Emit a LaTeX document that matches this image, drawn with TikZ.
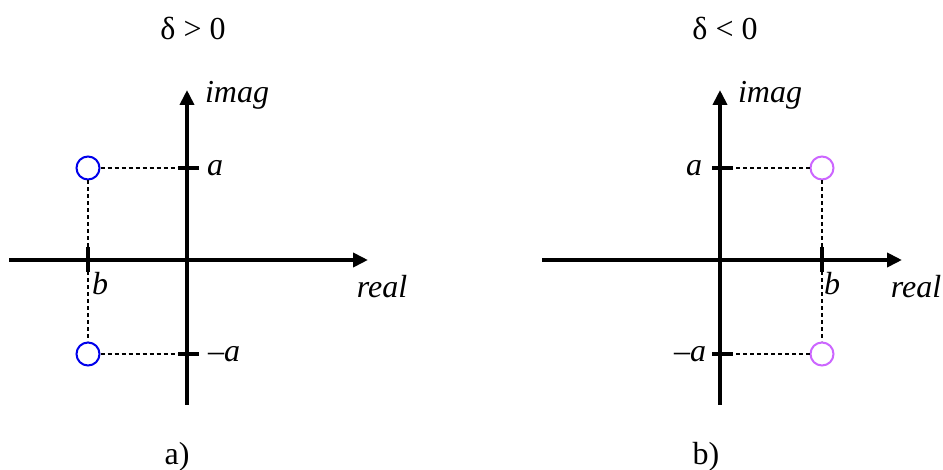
\documentclass[tikz,border=0pt]{standalone}
\usepackage{fontspec}
\setmainfont{Liberation Serif}
\usetikzlibrary{arrows.meta,positioning}
\definecolor{poleblue}{RGB}{0,0,235}
\definecolor{polepink}{RGB}{204,102,255}
\tikzset{axis/.style={-{Triangle[length=15pt,width=14pt]},line width=4pt},tickmark/.style={line width=4pt},guide/.style={line width=1.2pt,dash pattern=on 4pt off 3pt},pole/.style={draw,circle,line width=2pt,minimum size=23pt,inner sep=0pt},lbl/.style={font=\fontsize{32}{38}\selectfont\itshape,inner sep=0pt},ttl/.style={font=\fontsize{32}{38}\selectfont,inner sep=0pt}}

\begin{document}
\begin{tikzpicture}[x=1pt,y=-1pt]
\useasboundingbox (0,0) rectangle (943,470);
% a) delta > 0
\coordinate (o1) at (187,260); \coordinate (xl1) at (9,260); \coordinate (xr1) at (368,260);
\coordinate (yb1) at (187,405); \coordinate (yt1) at (187,90);
\coordinate (a1) at (187,168); \coordinate (na1) at (187,354); \coordinate (b1) at (88,260);
\node[pole,poleblue] (p1) at (88,168) {}; \node[pole,poleblue] (q1) at (88,354) {};
\draw[guide] (p1)--(a1); \draw[guide] (q1)--(na1); \draw[guide] (p1)--(q1);
\draw[axis] (xl1)--(xr1); \draw[axis] (yb1)--(yt1);
\draw[tickmark] ([xshift=-9pt]a1)--([xshift=12pt]a1); \draw[tickmark] ([xshift=-9pt]na1)--([xshift=12pt]na1);
\draw[tickmark,line width=3.5pt] ([yshift=13pt]b1)--([yshift=-12pt]b1);
\node[ttl] (t1) at (193,28) {δ > 0};
\node[lbl] (im1) at (237,95) {imag}; \node[lbl] (re1) at (382,287) {real};
\node[lbl] (la1) at (215,168) {a}; \node[lbl] (lna1) at (224,354) {\textup{–}a}; \node[lbl] (lb1) at (100,284) {b};
\node[ttl] (c1) at (177,457) {a)};
% b) delta < 0
\coordinate (o2) at (720,260); \coordinate (xl2) at (542,260); \coordinate (xr2) at (902,260);
\coordinate (yb2) at (720,405); \coordinate (yt2) at (720,90);
\coordinate (a2) at (720,168); \coordinate (na2) at (720,354); \coordinate (b2) at (822,260);
\node[pole,polepink] (p2) at (822,168) {}; \node[pole,polepink] (q2) at (822,354) {};
\draw[guide] (p2)--(a2); \draw[guide] (q2)--(na2); \draw[guide] (p2)--(q2);
\draw[axis] (xl2)--(xr2); \draw[axis] (yb2)--(yt2);
\draw[tickmark] ([xshift=-8pt]a2)--([xshift=13pt]a2); \draw[tickmark] ([xshift=-8pt]na2)--([xshift=13pt]na2);
\draw[tickmark,line width=3.5pt] ([yshift=13pt]b2)--([yshift=-12pt]b2);
\node[ttl] (t2) at (725,28) {δ < 0};
\node[lbl] (im2) at (770,95) {imag}; \node[lbl] (re2) at (916,287) {real};
\node[lbl] (la2) at (694,168) {a}; \node[lbl] (lna2) at (690,354) {\textup{–}a}; \node[lbl] (lb2) at (832,284) {b};
\node[ttl] (c2) at (706,457) {b)};
\end{tikzpicture}
\end{document}
